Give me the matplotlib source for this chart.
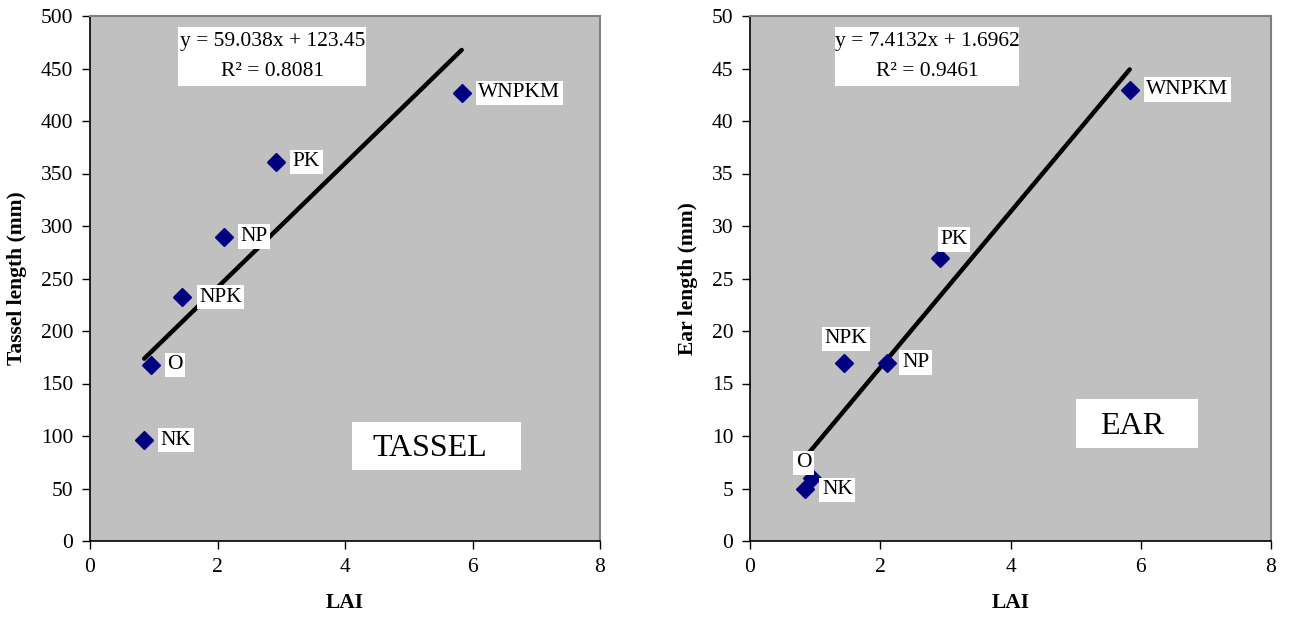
import numpy as np
import matplotlib
matplotlib.use("Agg")
import matplotlib.pyplot as plt
from matplotlib.patches import Rectangle

plt.rcParams["font.family"] = ["Liberation Serif", "DejaVu Serif"]

# data
treatments = ["NK", "O", "NPK", "NP", "PK", "WNPKM"]
lai = [0.85, 0.95, 1.45, 2.10, 2.92, 5.83]
tassel_len = [96, 168, 232, 290, 361, 427]
ear_len = [5, 6, 17, 17, 27, 43]

# Excel trendline coefficients as printed on the chart
tassel_fit = (59.038, 123.45, 0.8081)
ear_fit = (7.4132, 1.6962, 0.9461)

# label offsets (points) per treatment
tassel_offsets = [(12, 0), (12, 0), (12, 0), (12, 0), (12, 0), (12, 0)]
ear_offsets = [(12, -1), (-6, 11), (1, 17), (11, 0), (0, 13), (12, 0)]
ear_align = ["left", "center", "center", "left", "left", "left"]
tassel_align = ["left"] * 6

FS = 15.5


def draw_panel(ax, y, fit, offsets, aligns, ylim, ystep, ylabel, tag,
               eq_box, tag_box):
    ax.set_facecolor("#c0c0c0")
    slope, intercept, r2 = fit
    xs = np.array([min(lai), max(lai)])
    ax.plot(xs, slope * xs + intercept, color="black", lw=3.2, zorder=2,
            solid_capstyle="round")
    ax.plot(lai, y, linestyle="none", marker="D", markersize=9,
            color="#000080", zorder=3)
    for name, xv, yv, off, ha in zip(treatments, lai, y, offsets, aligns):
        ax.annotate(name, (xv, yv), xytext=off, textcoords="offset points",
                    ha=ha, va="center", fontsize=FS, zorder=4,
                    bbox=dict(boxstyle="square,pad=0.12", fc="white", ec="none"))

    ax.set_xlim(0, 8)
    ax.set_ylim(*ylim)
    ax.set_xticks(np.arange(0, 9, 2))
    ax.set_yticks(np.arange(ylim[0], ylim[1] + ystep, ystep))
    ax.tick_params(direction="out", length=6, width=1, labelsize=FS,
                   colors="black", pad=6)
    for s in ("top", "right"):
        ax.spines[s].set_color("#808080")
        ax.spines[s].set_linewidth(1.5)
    for s in ("left", "bottom"):
        ax.spines[s].set_color("black")
        ax.spines[s].set_linewidth(1.2)
    ax.set_xlabel("LAI", fontsize=FS, fontweight="bold", labelpad=12)
    ax.set_ylabel(ylabel, fontsize=FS, fontweight="bold", labelpad=10)

    # equation box, one text per line
    ex, ey, ew, eh = eq_box
    ax.add_patch(Rectangle((ex, ey), ew, eh, transform=ax.transAxes,
                           fc="white", ec="none", zorder=4))
    ax.text(ex + ew / 2, ey + eh * 0.75, f"y = {slope}x + {intercept}",
            transform=ax.transAxes, ha="center", va="center", fontsize=FS,
            zorder=5)
    ax.text(ex + ew / 2, ey + eh * 0.24, f"R² = {r2}",
            transform=ax.transAxes, ha="center", va="center", fontsize=FS,
            zorder=5)

    # panel tag box
    tx, ty, tw, th = tag_box
    ax.add_patch(Rectangle((tx, ty), tw, th, transform=ax.transAxes,
                           fc="white", ec="none", zorder=4))
    ax.text(tx + tw * 0.46, ty + th / 2 - 0.005, tag, transform=ax.transAxes,
            ha="center", va="center", fontsize=23, zorder=5)


fig = plt.figure(figsize=(12.91, 6.23), dpi=100)
ax1 = fig.add_axes([90 / 1291, 82 / 623, 510 / 1291, 525 / 623])
ax2 = fig.add_axes([750 / 1291, 82 / 623, 521 / 1291, 525 / 623])

draw_panel(ax1, tassel_len, tassel_fit, tassel_offsets, tassel_align,
           (0, 500), 50, "Tassel length (mm)", "TASSEL",
           eq_box=(0.173, 0.867, 0.369, 0.112),
           tag_box=(0.514, 0.135, 0.331, 0.091))
draw_panel(ax2, ear_len, ear_fit, ear_offsets, ear_align,
           (0, 50), 5, "Ear length (mm)", "EAR",
           eq_box=(0.163, 0.867, 0.353, 0.112),
           tag_box=(0.626, 0.177, 0.234, 0.093))

fig.savefig("out.png", dpi=100)
